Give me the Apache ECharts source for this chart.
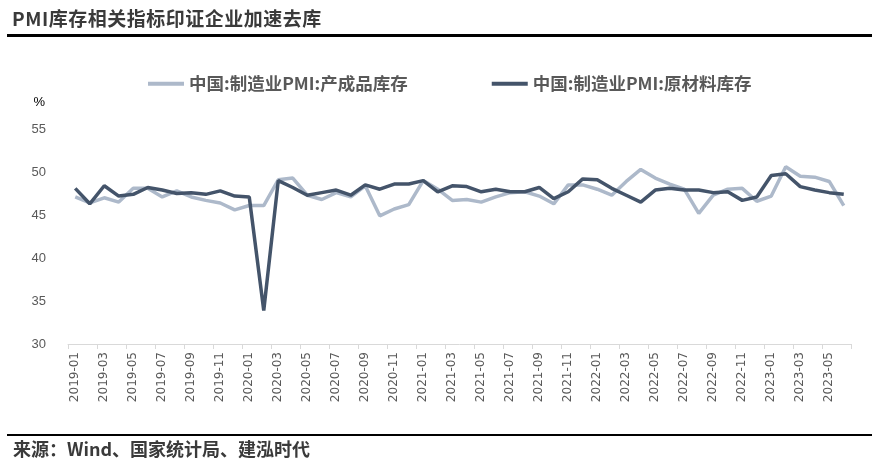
<!DOCTYPE html>
<html>
<head>
<meta charset="utf-8">
<script src="https://cdn.jsdelivr.net/npm/echarts@6/dist/echarts.min.js"></script>
<style>
html,body{margin:0;padding:0;background:#fff;}
#wrap{position:relative;width:879px;height:471px;overflow:hidden;}
#title{position:absolute;left:12px;top:4px;font-family:"Noto Sans CJK SC";font-size:19px;font-weight:bold;color:#3a3a3a;letter-spacing:0.5px;}
#line1{position:absolute;left:7px;top:34px;width:865px;height:3px;background:#000;}
#line2{position:absolute;left:7px;top:434px;width:865px;height:2px;background:#000;}
#src{position:absolute;left:13px;top:435px;font-family:"Noto Sans CJK SC";font-size:18px;font-weight:bold;color:#3a3a3a;}
#chart{position:absolute;left:0;top:0;width:879px;height:471px;}
</style>
</head>
<body>
<div id="wrap">
<div id="chart"></div>
<div id="title">PMI库存相关指标印证企业加速去库</div>
<div id="line1"></div>
<div id="line2"></div>
<div id="src">来源：Wind、国家统计局、建泓时代</div>
</div>
<script>
var categories = [
'2019-01','2019-02','2019-03','2019-04','2019-05','2019-06','2019-07','2019-08','2019-09','2019-10','2019-11','2019-12',
'2020-01','2020-02','2020-03','2020-04','2020-05','2020-06','2020-07','2020-08','2020-09','2020-10','2020-11','2020-12',
'2021-01','2021-02','2021-03','2021-04','2021-05','2021-06','2021-07','2021-08','2021-09','2021-10','2021-11','2021-12',
'2022-01','2022-02','2022-03','2022-04','2022-05','2022-06','2022-07','2022-08','2022-09','2022-10','2022-11','2022-12',
'2023-01','2023-02','2023-03','2023-04','2023-05','2023-06'];
var finishedGoods = [
47.1,46.4,47.0,46.5,48.1,48.1,47.1,47.8,47.1,46.7,46.4,45.6,
46.1,46.1,49.1,49.3,47.3,46.8,47.6,47.1,48.4,44.9,45.7,46.2,
49.0,48.0,46.7,46.8,46.5,47.1,47.6,47.7,47.2,46.3,48.5,48.5,
48.0,47.3,48.9,50.3,49.3,48.6,48.0,45.2,47.3,48.0,48.1,46.6,
47.2,50.6,49.5,49.4,48.9,46.1];
var rawMaterials = [
48.1,46.3,48.4,47.2,47.4,48.2,47.9,47.5,47.6,47.4,47.8,47.2,
47.1,33.9,49.0,48.2,47.3,47.6,47.9,47.3,48.5,48.0,48.6,48.6,
49.0,47.7,48.4,48.3,47.7,48.0,47.7,47.7,48.2,46.9,47.7,49.2,
49.1,48.1,47.3,46.5,47.9,48.1,47.9,47.9,47.6,47.7,46.7,47.1,
49.6,49.8,48.3,47.9,47.6,47.4];
var seriesNames = ['中国:制造业PMI:产成品库存','中国:制造业PMI:原材料库存'];

var chart = echarts.init(document.getElementById('chart'));
chart.setOption({
  animation:false,
  grid:{left:68,right:28,top:129,bottom:127},
  legend:{
    top:70, left:143,
    itemWidth:36, itemHeight:4, itemGap:84,
    icon:'rect',
    textStyle:{fontFamily:'Noto Sans CJK SC',fontSize:17.5,color:'#595959',fontWeight:'bold',padding:[0,0,0,0]},
    data:seriesNames
  },
  xAxis:{
    type:'category', data:categories, boundaryGap:true,
    axisLine:{lineStyle:{color:'#d9d9d9',width:1}},
    axisTick:{show:true,interval:1,length:5,lineStyle:{color:'#d9d9d9'}},
    axisLabel:{interval:1,rotate:90,color:'#595959',fontSize:12,fontFamily:'DejaVu Sans',margin:8}
  },
  yAxis:{
    type:'value', min:30, max:55, interval:5,
    name:'%', nameLocation:'end', nameGap:20,
    nameTextStyle:{color:'#000',fontSize:13,align:'right',padding:[0,23,0,0]},
    splitLine:{show:false},
    axisLine:{show:false}, axisTick:{show:false},
    axisLabel:{color:'#595959',fontSize:13,margin:22}
  },
  series:[
    {name:seriesNames[0],type:'line',data:finishedGoods,symbol:'none',
     lineStyle:{color:'#adb9ca',width:3.5},itemStyle:{color:'#adb9ca'}},
    {name:seriesNames[1],type:'line',data:rawMaterials,symbol:'none',
     lineStyle:{color:'#44546a',width:3.5},itemStyle:{color:'#44546a'}}
  ]
});
</script>
</body>
</html>
